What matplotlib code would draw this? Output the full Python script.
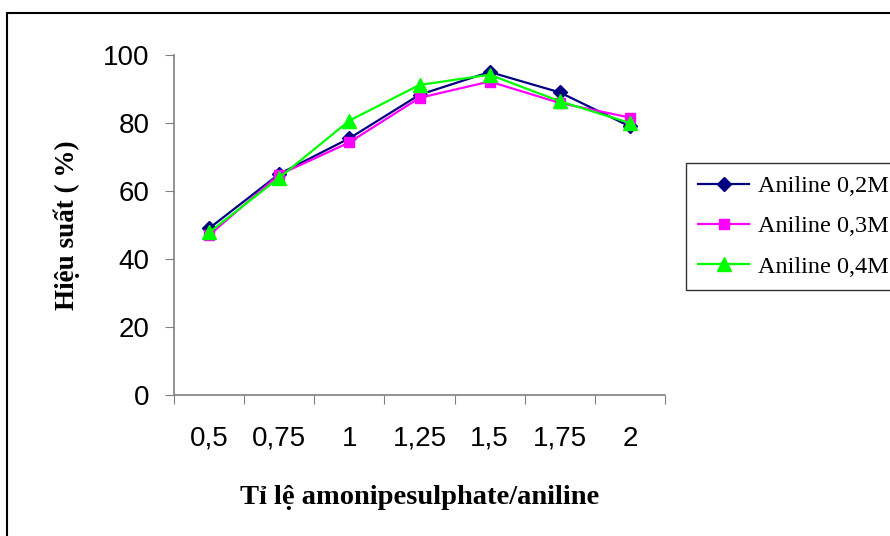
import matplotlib.pyplot as plt
from matplotlib.patches import Rectangle

ratios = ["0,5", "0,75", "1", "1,25", "1,5", "1,75", "2"]
aniline_02 = [49.0, 65.0, 75.5, 88.3, 95.0, 89.0, 79.0]
aniline_03 = [47.0, 64.8, 74.3, 87.4, 92.2, 85.9, 81.6]
aniline_04 = [47.8, 63.9, 80.7, 91.2, 94.2, 86.4, 80.0]
series_names = ["Aniline 0,2M", "Aniline 0,3M", "Aniline 0,4M"]

fig = plt.figure(figsize=(8.9, 5.36), dpi=100)
ax = fig.add_axes([174 / 890, 1 - 395 / 536, 491 / 890, 340 / 536])

x = list(range(len(ratios)))
ax.plot(x, aniline_02, color="#000080", marker="D", markersize=7.5, lw=1.6, label=series_names[0])
ax.plot(x, aniline_03, color="#FF00FF", marker="s", markersize=7.5, lw=1.6, label=series_names[1])
ax.plot(x, aniline_04, color="#00FF00", marker="^", markersize=10, lw=1.6, label=series_names[2])

ax.set_xlim(-0.5, len(ratios) - 0.5)
ax.set_ylim(0, 100)
ax.set_yticks([0, 20, 40, 60, 80, 100])
ax.set_xticks([i - 0.5 for i in range(len(ratios) + 1)])
ax.set_xticklabels([])
ax.set_xticks(x, minor=True)
ax.set_xticklabels(ratios, minor=True)
ax.tick_params(axis="x", which="minor", length=0, pad=22, labelsize=20)
ax.tick_params(axis="x", which="major", length=6.5, color="#808080", direction="out")
ax.tick_params(axis="y", length=6.5, color="#808080", direction="out", labelsize=20, pad=11)
for lbl in ax.get_xticklabels(minor=True) + ax.get_yticklabels():
    lbl.set_fontfamily("Liberation Sans")

for s in ["top", "right"]:
    ax.spines[s].set_visible(False)
ax.spines["left"].set_color("#808080")
ax.spines["bottom"].set_color("#808080")
ax.spines["left"].set_linewidth(1.2)
ax.spines["bottom"].set_linewidth(1.2)

ax.set_ylabel("Hiệu suất ( %)", fontfamily="Liberation Serif", fontweight="bold",
              fontsize=19.5, labelpad=17)
ax.set_xlabel("Tỉ lệ amonipesulphate/aniline", fontfamily="Liberation Serif",
              fontweight="bold", fontsize=20.5, labelpad=24)

leg = fig.legend(loc="upper left", bbox_to_anchor=(686 / 890, 1 - 163 / 536),
                 prop={"family": "Liberation Serif", "size": 17.5}, frameon=True,
                 fancybox=False, edgecolor="black", handlelength=2.1,
                 borderaxespad=0, labelspacing=0.75, handletextpad=0.35,
                 borderpad=0.5)
leg.get_frame().set_linewidth(1.0)

fig.patches.append(Rectangle((7 / 890, -0.1), 1.2, 1 - 13 / 536 + 0.1,
                             transform=fig.transFigure, fill=False,
                             edgecolor="black", lw=1.5, clip_on=False))

fig.savefig("out.png", dpi=100)
